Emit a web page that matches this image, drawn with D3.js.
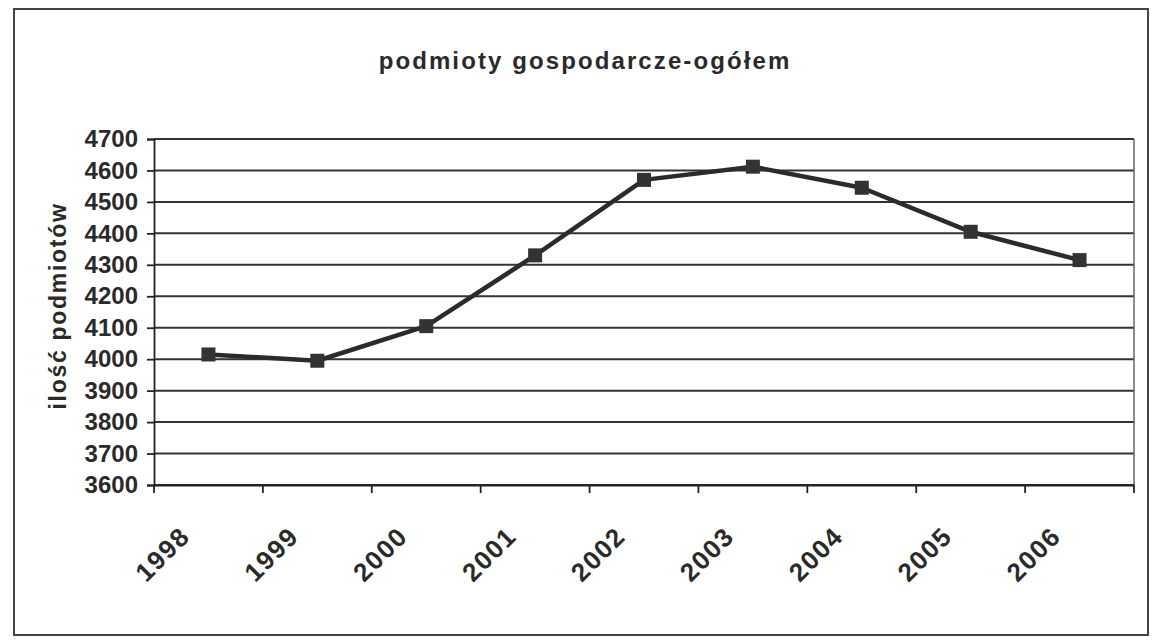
<!DOCTYPE html>
<html>
<head>
<meta charset="utf-8">
<script src="https://cdn.jsdelivr.net/npm/d3@7"></script>
<style>
  body { margin: 0; background: #fff; }
  text { font-family: "Liberation Sans", Arial, sans-serif; fill: #2a2a2a; }
</style>
</head>
<body>
<div id="chart"></div>
<script>
// dane
var years = ["1998", "1999", "2000", "2001", "2002", "2003", "2004", "2005", "2006"];
var values = [4015, 3995, 4105, 4330, 4570, 4612, 4545, 4405, 4315];
var yTicks = [3600, 3700, 3800, 3900, 4000, 4100, 4200, 4300, 4400, 4500, 4600, 4700];

var width = 1153, height = 642;
var margin = {left: 154, top: 139, right: 19, bottom: 157};

var svg = d3.select("#chart").append("svg")
    .attr("width", width)
    .attr("height", height);

// ramka wokół całego wykresu
svg.append("rect")
    .attr("x", 14).attr("y", 9)
    .attr("width", 1134).attr("height", 626)
    .attr("fill", "none")
    .attr("stroke", "#444")
    .attr("stroke-width", 2);

var x = d3.scaleBand()
    .domain(years)
    .range([margin.left, width - margin.right]);

var y = d3.scaleLinear()
    .domain([3600, 4700])
    .range([height - margin.bottom, margin.top]);

// linie siatki
svg.append("g")
    .selectAll("line")
    .data(yTicks)
    .enter()
    .append("line")
    .attr("x1", margin.left)
    .attr("x2", width - margin.right)
    .attr("y1", d => y(d))
    .attr("y2", d => y(d))
    .attr("stroke", "#333")
    .attr("stroke-width", 2);

// prawa krawędź obszaru wykresu
svg.append("line")
    .attr("x1", width - margin.right).attr("x2", width - margin.right)
    .attr("y1", margin.top).attr("y2", height - margin.bottom)
    .attr("stroke", "#666")
    .attr("stroke-width", 1.5);

// oś Y
var yAxis = svg.append("g")
    .attr("transform", `translate(${margin.left}, 0)`)
    .call(d3.axisLeft(y).tickValues(yTicks).tickSize(7).tickPadding(9).tickFormat(d3.format("d")));
yAxis.select(".domain").attr("stroke", "#222").attr("stroke-width", 1.8);
yAxis.selectAll(".tick line").attr("stroke", "#222").attr("stroke-width", 1.8);
yAxis.selectAll(".tick text")
    .style("font-size", "24px")
    .style("font-weight", "bold")
    .attr("fill", "#2a2a2a");

// oś X
var xAxis = svg.append("g")
    .attr("transform", `translate(0, ${height - margin.bottom})`)
    .call(d3.axisBottom(x).tickSize(0).tickFormat(""));
xAxis.select(".domain").attr("stroke", "#222").attr("stroke-width", 1.8);

// znaczniki podziału kategorii
svg.append("g")
    .selectAll("line")
    .data(years.concat(["end"]))
    .enter()
    .append("line")
    .attr("x1", (d, i) => margin.left + i * x.step())
    .attr("x2", (d, i) => margin.left + i * x.step())
    .attr("y1", height - margin.bottom)
    .attr("y2", height - margin.bottom + 8)
    .attr("stroke", "#222")
    .attr("stroke-width", 1.8);

// etykiety lat
svg.append("g")
    .selectAll("text")
    .data(years)
    .enter()
    .append("text")
    .attr("transform", d => `translate(${x(d) + x.bandwidth() / 2 - 17}, ${height - margin.bottom + 53}) rotate(-45)`)
    .attr("text-anchor", "end")
    .style("font-size", "26px")
    .style("font-weight", "bold")
    .style("letter-spacing", "1.5px")
    .text(d => d);

// linia danych
var line = d3.line()
    .x((d, i) => x(years[i]) + x.bandwidth() / 2)
    .y(d => y(d));

svg.append("path")
    .datum(values)
    .attr("d", line)
    .attr("fill", "none")
    .attr("stroke", "#2b2b2b")
    .attr("stroke-width", 4.5)
    .attr("stroke-linejoin", "round");

svg.append("g")
    .selectAll("rect")
    .data(values)
    .enter()
    .append("rect")
    .attr("x", (d, i) => x(years[i]) + x.bandwidth() / 2 - 7)
    .attr("y", d => y(d) - 7)
    .attr("width", 14)
    .attr("height", 14)
    .attr("fill", "#333");

// tytuł
svg.append("text")
    .attr("x", 585)
    .attr("y", 69)
    .attr("text-anchor", "middle")
    .style("font-size", "24px")
    .style("font-weight", "bold")
    .style("letter-spacing", "2.1px")
    .text("podmioty gospodarcze-ogółem");

// opis osi Y
svg.append("text")
    .attr("transform", "translate(66, 306) rotate(-90)")
    .attr("text-anchor", "middle")
    .style("font-size", "23px")
    .style("font-weight", "bold")
    .style("letter-spacing", "1.7px")
    .text("ilość podmiotów");
</script>
</body>
</html>
